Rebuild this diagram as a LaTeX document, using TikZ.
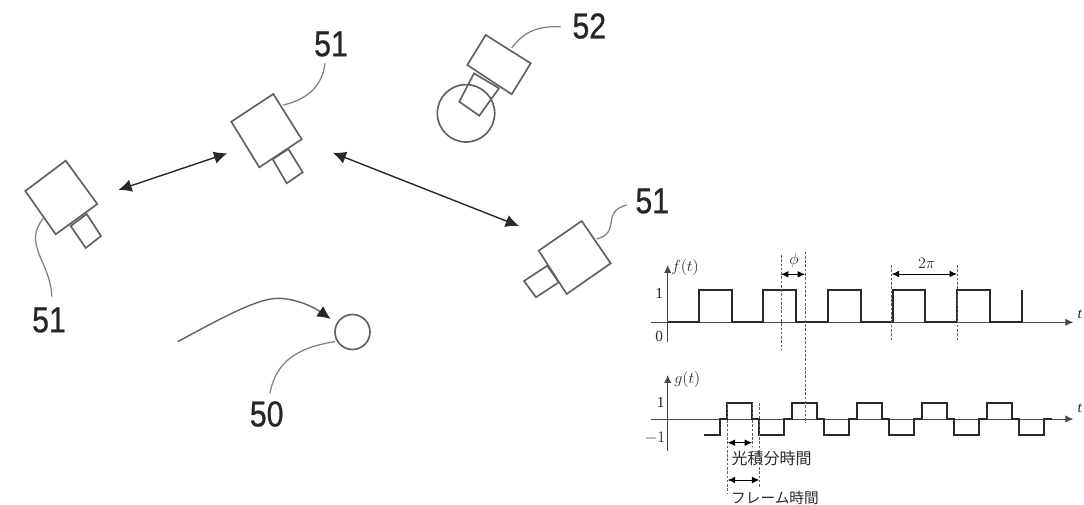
\documentclass[tikz,border=0pt]{standalone}
\usepackage{fontspec}
\usetikzlibrary{arrows.meta}
\setmainfont{Liberation Serif}
\newfontfamily\numfont[FakeStretch=0.84,FakeBold=0.7]{Liberation Sans}
\newfontfamily\cjkfont{Noto Sans CJK JP}
\definecolor{inkgray}{gray}{0.38}
\definecolor{chartink}{gray}{0.16}
\tikzset{
  campart/.style={draw=inkgray,line width=1.25pt,line join=miter,fill=white},
  ballpart/.style={draw=inkgray,line width=1.25pt},
  leader/.style={draw=inkgray!80,line width=0.95pt},
  bigarrow/.style={draw=chartink,line width=1.05pt,{Latex[length=10pt,width=9.5pt]}-{Latex[length=10pt,width=9.5pt]}},
  runarrow/.style={draw=inkgray,line width=1.05pt,-{Latex[length=10pt,width=9.5pt,color=black!85]}},
  reflabel/.style={font=\numfont\fontsize{27}{30}\selectfont,text=black!85,inner sep=0pt},
  axisline/.style={draw=chartink!85,line width=0.7pt,-{Latex[length=6pt,width=5.5pt]}},
  wave/.style={draw=chartink,line width=1.7pt,line join=miter},
  guide/.style={draw=inkgray,line width=0.6pt,dash pattern=on 2pt off 1.2pt},
  spanarrow/.style={draw=black,line width=0.7pt,{Latex[length=5.5pt,width=5pt]}-{Latex[length=5.5pt,width=5pt]}},
  charttext/.style={font=\fontsize{11.5}{13}\selectfont,text=chartink,inner sep=0pt},
  jptext/.style={text=chartink,inner sep=0pt}
}
\begin{document}
\begin{tikzpicture}[x=0.75pt,y=-0.75pt]
\useasboundingbox (0,0) rectangle (1084,505);

% cameras
\draw[campart] (70.7,226) -- (86.7,214) -- (101,236) -- (85.7,248) -- cycle;
\draw[campart] (65.7,160.7) -- (97.3,204) -- (55.7,234.3) -- (25.3,191) -- cycle;
\draw[campart] (272.7,159.3) -- (288.3,149) -- (302.7,172.3) -- (286.7,183.3) -- cycle;
\draw[campart] (273.3,94) -- (301.7,139.3) -- (259.3,167.3) -- (231.3,121.7) -- cycle;
\draw[campart] (547.3,265.7) -- (558.7,282.3) -- (536,297.3) -- (524,281) -- cycle;
\draw[campart] (581.7,221) -- (610.7,263.3) -- (566.7,294) -- (538.7,250.7) -- cycle;
\draw[campart] (474,73.3) -- (499,88.3) -- (479.3,115.7) -- (459.3,101.7) -- cycle;
\draw[campart] (485.7,35) -- (530.7,63.3) -- (511.7,94.3) -- (467.3,65) -- cycle;
\coordinate (headc) at (466,113.3);
\draw[ballpart] (headc) circle[radius=28.7];

% ball
\coordinate (ballc) at (352.5,332);
\draw[ballpart] (ballc) circle[radius=17.5];

% labels
\node[reflabel] (lblmid) at (331,44) {51};
\node[reflabel] (lblleft) at (49,320) {51};
\node[reflabel] (lblright) at (652.3,201) {51};
\node[reflabel] (lblhead) at (589.3,26) {52};
\node[reflabel] (lblball) at (266.7,414) {50};

% leaders
\coordinate (lmid) at (283.3,105);
\coordinate (lleft) at (43.3,218.3);
\coordinate (lright) at (596.7,239);
\coordinate (lhead) at (511.7,48);
\coordinate (lball) at (335,341.7);
\coordinate (tmid) at (325,63.3);
\coordinate (tleft) at (51.7,296.7);
\coordinate (tright) at (626.7,205);
\coordinate (thead) at (560.7,26.7);
\coordinate (tball) at (270,393.3);
\draw[leader] (lmid) .. controls (305,100) and (322,88) .. (tmid);
\draw[leader] (lleft) .. controls (22,245) and (51,262) .. (tleft);
\draw[leader] (lright) .. controls (622,232) and (600,212) .. (tright);
\draw[leader] (lhead) .. controls (525,30) and (540,26) .. (thead);
\draw[leader] (lball) .. controls (300,347) and (276,360) .. (tball);

% arrows
\coordinate (al) at (118.3,190);
\coordinate (am) at (227.3,153.3);
\coordinate (bm) at (332.7,152.7);
\coordinate (br) at (519,226);
\draw[bigarrow] (al) -- (am);
\draw[bigarrow] (bm) -- (br);
\coordinate (run) at (177.7,341.7);
\coordinate (runend) at (330.7,319);
\draw[runarrow] (run) .. controls (225,316) and (262,296) .. (282,298.5) .. controls (300,300) and (315,308) .. (runend);

% chart f
\coordinate (fbot) at (667.7,341.7);
\coordinate (ftop) at (667.7,265);
\coordinate (fl) at (650.7,322.3);
\coordinate (fr) at (1073.3,322.3);
\draw[axisline] (fbot) -- (ftop);
\draw[axisline] (fl) -- (fr);
\draw[wave] (667.7,322.3) -- (699,322.3) -- (699,290) -- (731.7,290) -- (731.7,322.3)
  -- (763.3,322.3) -- (763.3,290) -- (795.7,290) -- (795.7,322.3)
  -- (828,322.3) -- (828,290) -- (860.7,290) -- (860.7,322.3)
  -- (892.7,322.3) -- (892.7,290) -- (925,290) -- (925,322.3)
  -- (957.3,322.3) -- (957.3,290) -- (989.7,290) -- (989.7,322.3)
  -- (1022,322.3) -- (1022,290);
\node[charttext] (ft) at (685,267.3) {$f(t)$};
\node[charttext] (ftt) at (1080,314) {\textit{t}};
\node[charttext] (fone) at (659.3,293.3) {1};
\node[charttext] (fzero) at (659.3,336) {0};

% chart g
\coordinate (gbot) at (667.7,450.7);
\coordinate (gtop) at (667.7,375);
\coordinate (gl) at (650.7,419);
\coordinate (gr) at (1073.3,419);
\draw[axisline] (gbot) -- (gtop);
\draw[axisline] (gl) -- (gr);
\draw[wave] (704,435.3) -| (720,419) -| (727,402.7) -| (752,419) -| (759.3,435.3)
  -| (784.3,419) -| (792,402.7) -| (816.7,419) -| (824.3,435.3)
  -| (849.3,419) -| (856.7,402.7) -| (881.7,419) -| (889.3,435.3)
  -| (914.3,419) -| (921.7,402.7) -| (946.7,419) -| (954.3,435.3)
  -| (979.3,419) -| (986.7,402.7) -| (1011.7,419) -| (1019,435.3)
  -| (1044,419) -- (1051.7,419);
\node[charttext] (gt) at (687.3,380) {$g(t)$};
\node[charttext] (gtt) at (1080,408.3) {\textit{t}};
\node[charttext] (gone) at (660.7,402.3) {1};
\node[charttext] (gminus) at (655,437.7) {$-1$};

% guides
\coordinate (pa1) at (781,255);
\coordinate (pa2) at (781,350);
\coordinate (pb1) at (805,251.7);
\coordinate (pb2) at (805,423.3);
\coordinate (qa1) at (891.7,265);
\coordinate (qa2) at (891.7,341.7);
\coordinate (qb1) at (957,265);
\coordinate (qb2) at (957,341.7);
\coordinate (ra1) at (727.7,403);
\coordinate (ra2) at (727.7,493);
\coordinate (rb1) at (752,403);
\coordinate (rb2) at (752,446.7);
\coordinate (rc1) at (759.3,403);
\coordinate (rc2) at (759.3,488.3);
\foreach \a/\b in {pa1/pa2,pb1/pb2,qa1/qa2,qb1/qb2,ra1/ra2,rb1/rb2,rc1/rc2}
  \draw[guide] (\a) -- (\b);

% spans
\draw[spanarrow] (781,274.3) -- (805,274.3);
\draw[spanarrow] (891.7,274) -- (957,274);
\draw[spanarrow] (727.7,442.7) -- (752,442.7);
\draw[spanarrow] (727.7,480) -- (759.3,480);
\node[charttext] (phi) at (794,260.7) {$\phi$};
\node[charttext] (twopi) at (926.7,263.3) {$2\pi$};
\node[jptext,font=\cjkfont\fontsize{12}{14}\selectfont] (exptime) at (771.7,458.3) {光積分時間};
\node[jptext,font=\cjkfont\fontsize{11}{13}\selectfont] (frametime) at (775,498.3) {フレーム時間};
\end{tikzpicture}
\end{document}
